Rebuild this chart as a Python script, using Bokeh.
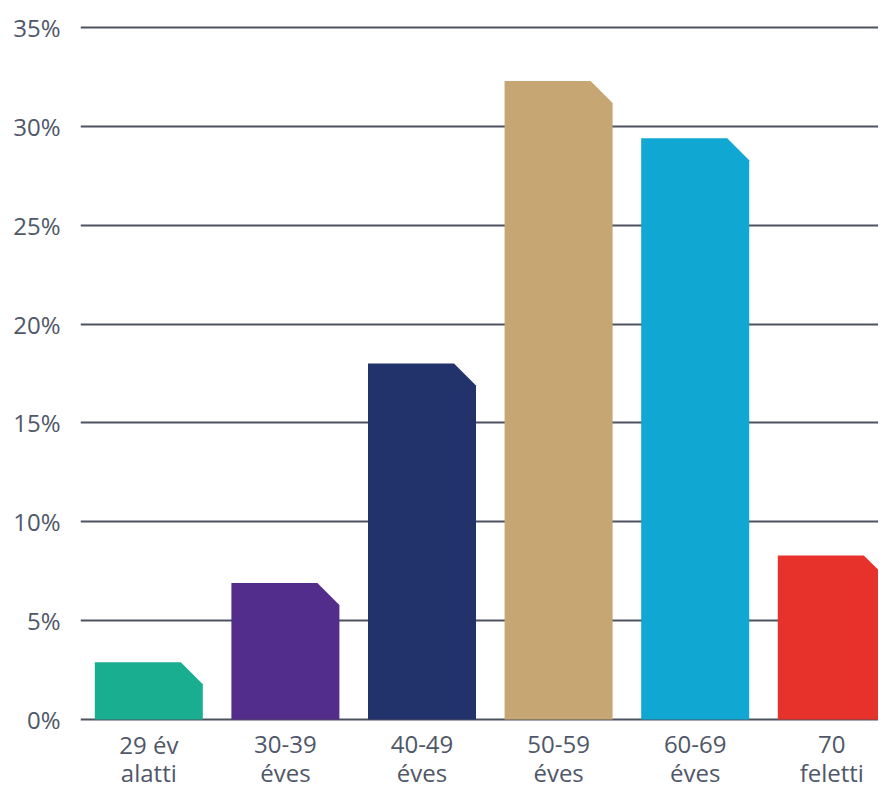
from bokeh.plotting import figure
from bokeh.models import Range1d, FixedTicker, ColumnDataSource
from bokeh.core.properties import value
from bokeh.embed import file_html
from bokeh.resources import INLINE

# ---- data ----
categories = ["29 év\nalatti", "30-39\néves", "40-49\néves", "50-59\néves", "60-69\néves", "70\nfeletti"]
values = [2.9, 6.9, 18.0, 32.3, 29.4, 8.3]
colors = ["#1aae91", "#532d8c", "#21336a", "#c6a672", "#10a7d3", "#e7322b"]
y_ticks = [0, 5, 10, 15, 20, 25, 30, 35]

# ---- layout / style ----
W, H = 878, 790
frame_left, frame_top = 80, 15
zero_px, top_px = 719, 27          # pixel rows of 0% and 35%
unit_px = 136.6                    # pixels per category
px_per_pct = (zero_px - top_px) / 35.0
bar_w = 108 / unit_px
cut_dx = 22 / unit_px
cut_dy = 22 / px_per_pct
text_col = "#4f5768"
grid_col = "#4d535e"
font = "Open Sans"

x_start = -0.5
x_end = x_start + (W - frame_left) / unit_px
y_start = -(H - zero_px) / px_per_pct
y_end = 35 + (top_px - frame_top) / px_per_pct

p = figure(width=W, height=H, output_backend="svg", toolbar_location=None,
           x_range=Range1d(x_start, x_end), y_range=Range1d(y_start, y_end),
           min_border_left=frame_left, min_border_right=0,
           min_border_top=frame_top, min_border_bottom=0)
p.outline_line_color = None
p.background_fill_color = "white"
p.border_fill_color = "white"

xs, ys = [], []
for i, v in enumerate(values):
    l, r = i - bar_w / 2, i + bar_w / 2
    xs.append([l, l, r - cut_dx, r, r])
    ys.append([0, v, v, v - cut_dy, 0])
src = ColumnDataSource(dict(xs=xs, ys=ys, color=colors))
p.patches("xs", "ys", source=src, fill_color="color", line_color=None)

# category labels (two lines) below the bars
idx = list(range(len(categories)))
line1 = [c.split("\n")[0] for c in categories]
line2 = [c.split("\n")[1] for c in categories]
for txt, off in ((line1, 25), (line2, 53)):
    p.text(x=idx, y=[0] * len(idx), text=txt, y_offset=off,
           text_align="center", text_baseline="alphabetic",
           text_font=value(font), text_font_size="24px", text_color=text_col)

# y axis
p.yaxis.ticker = FixedTicker(ticks=y_ticks)
p.yaxis.major_label_overrides = {t: f"{t}%" for t in y_ticks}
p.yaxis.axis_line_color = None
p.yaxis.major_tick_line_color = None
p.yaxis.minor_tick_line_color = None
p.yaxis.major_label_text_font = font
p.yaxis.major_label_text_font_size = "24px"
p.yaxis.major_label_text_color = text_col
p.yaxis.major_label_standoff = 14

p.xaxis.visible = False
p.xgrid.grid_line_color = None
p.ygrid.ticker = FixedTicker(ticks=y_ticks)
p.ygrid.grid_line_color = grid_col
p.ygrid.grid_line_width = 2

open("out.html", "w").write(file_html(p, INLINE))
